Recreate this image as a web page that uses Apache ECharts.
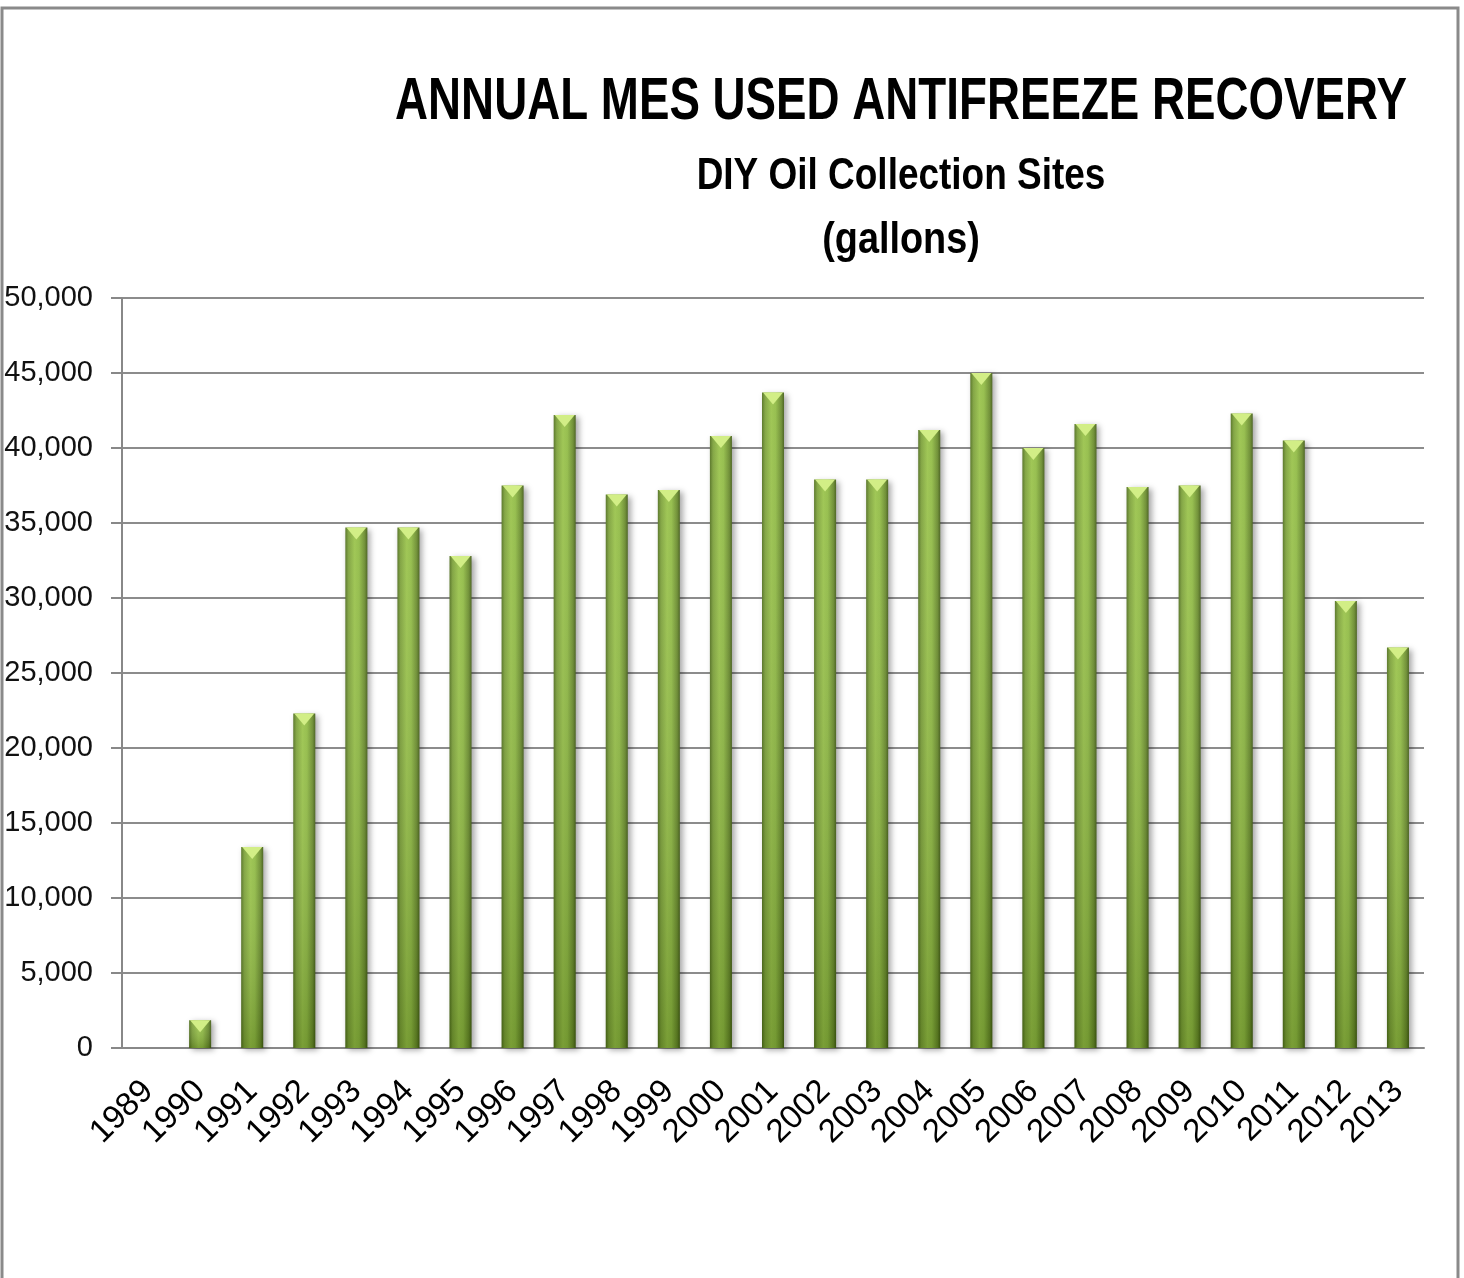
<!DOCTYPE html>
<html style="height: 100%">
<head>
    <meta charset="utf-8">
    <title>Annual MES Used Antifreeze Recovery</title>
    <style>
        body { margin: 0; background: #fff; }
    </style>
</head>
<body style="height: 100%">
    <div id="container" style="width: 1464px; height: 1278px"></div>
    <script type="text/javascript" src="https://cdn.jsdelivr.net/npm/echarts@6/dist/echarts.min.js"></script>
    <script type="text/javascript">
        var years   = ['1989', '1990', '1991', '1992', '1993', '1994', '1995', '1996', '1997',
                       '1998', '1999', '2000', '2001', '2002', '2003', '2004', '2005', '2006',
                       '2007', '2008', '2009', '2010', '2011', '2012', '2013'];
        var gallons = [0, 1850, 13400, 22300, 34700, 34700, 32800, 37500, 42200,
                       36900, 37200, 40800, 43700, 37900, 37900, 41200, 45000, 40000,
                       41600, 37400, 37500, 42300, 40500, 29800, 26700];
        var yTicks  = {min: 0, max: 50000, interval: 5000};
        var titles  = ['ANNUAL MES USED ANTIFREEZE RECOVERY', 'DIY Oil Collection Sites', '(gallons)'];

        var FONT = '"Liberation Sans", Arial, sans-serif';

        var dom     = document.getElementById("container");
        var myChart = echarts.init(dom);

        // bar body with a bevelled top, drawn through the axis scales
        function renderBar(params, api) {
            var val = api.value(1);
            if (!val) return;
            var top  = api.coord([api.value(0), val]);
            var base = api.coord([api.value(0), 0]);
            var w    = 22;
            var x    = top[0] - w / 2;
            var h    = base[1] - top[1];
            var cap  = Math.min(12, h);
            return {
                type: 'group',
                children: [{
                    type: 'rect',
                    shape: {x: x, y: top[1], width: w, height: h},
                    style: {
                        fill: new echarts.graphic.LinearGradient(0, 0, 1, 0, [
                            {offset: 0,    color: '#4f6e1c'},
                            {offset: 0.14, color: '#7a9f37'},
                            {offset: 0.42, color: '#98c248'},
                            {offset: 0.62, color: '#8fba42'},
                            {offset: 0.88, color: '#668829'},
                            {offset: 1,    color: '#405a13'}
                        ]),
                        shadowBlur: 6,
                        shadowOffsetX: 3,
                        shadowOffsetY: 2,
                        shadowColor: 'rgba(0,0,0,0.35)'
                    }
                }, {
                    type: 'rect',
                    shape: {x: x, y: top[1], width: w, height: h},
                    style: {
                        fill: new echarts.graphic.LinearGradient(0, 0, 0, 1, [
                            {offset: 0, color: 'rgba(255,255,255,0.08)'},
                            {offset: 1, color: 'rgba(30,50,0,0.25)'}
                        ])
                    }
                }, {
                    type: 'polygon',
                    shape: {points: [[x + 1, top[1]], [x + w - 1, top[1]], [top[0], top[1] + cap]]},
                    style: {fill: '#d2ee86'}
                }]
            };
        }

        function titleText(str, y, size, sx) {
            return {
                type: 'text',
                x: 901,
                y: y,
                scaleX: sx,
                silent: true,
                style: {
                    text: str,
                    fontFamily: FONT,
                    fontSize: size,
                    fontWeight: 'bold',
                    fill: '#000',
                    textAlign: 'center',
                    textVerticalAlign: 'top'
                }
            };
        }

        option = {
            backgroundColor: '#fff',
            animation: false,
            graphic: [{
                type: 'rect',
                shape: {x: 2, y: 8, width: 1456, height: 1320},
                style: {fill: 'none', stroke: '#8a8a8a', lineWidth: 3},
                silent: true
            },
                titleText(titles[0], 72, 60, 0.762),
                titleText(titles[1], 155, 44, 0.84),
                titleText(titles[2], 219, 44, 0.86)
            ],
            grid: {
                left:   122,
                top:    298,
                width:  1302,
                height: 750,
                containLabel: false,
                outerBoundsMode: 'none'
            },
            xAxis: {
                type: 'category',
                data: years,
                boundaryGap: true,
                axisLine:  {lineStyle: {color: '#888', width: 2}},
                axisTick:  {length: 13, lineStyle: {color: '#888', width: 2}},
                axisLabel: {
                    interval: 0,
                    rotate: 45,
                    margin: 38,
                    color: '#000',
                    fontFamily: FONT,
                    fontSize: 33
                }
            },
            yAxis: {
                type: 'value',
                min: yTicks.min,
                max: yTicks.max,
                interval: yTicks.interval,
                axisLine:  {show: true, lineStyle: {color: '#888', width: 2}},
                axisTick:  {show: true, length: 11, lineStyle: {color: '#888', width: 2}},
                splitLine: {lineStyle: {color: '#8c8c8c', width: 2}},
                axisLabel: {
                    margin: 29,
                    color: '#111',
                    fontFamily: FONT,
                    fontSize: 29,
                    formatter: function (v) {
                        return v.toLocaleString('en-US');
                    }
                }
            },
            series: [{
                type: 'custom',
                renderItem: renderBar,
                encode: {x: 0, y: 1},
                data: years.map(function (y, i) { return [i, gallons[i]]; })
            }]
        };

        if (option && typeof option === "object") {
            myChart.setOption(option, true);
        }
    </script>
</body>
</html>
